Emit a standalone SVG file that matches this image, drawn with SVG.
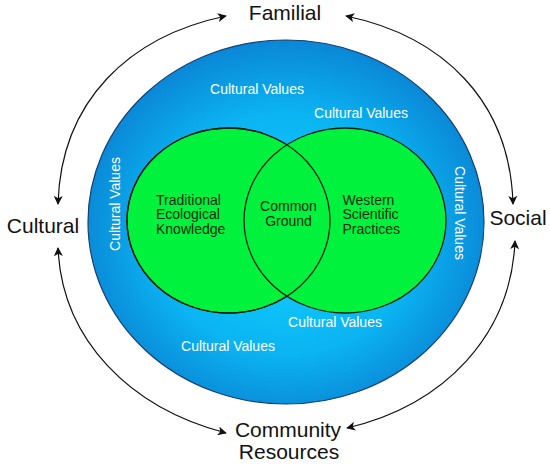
<svg xmlns="http://www.w3.org/2000/svg" width="550" height="467" viewBox="0 0 550 467">
<defs>
<radialGradient id="blueGrad" cx="50%" cy="52%" r="55%" fx="50%" fy="55%">
<stop offset="0" stop-color="#10d4ff"/>
<stop offset="0.6" stop-color="#0bb4f2"/>
<stop offset="1" stop-color="#0a80d2"/>
</radialGradient>
<marker id="arrow" viewBox="0 0 10 10" refX="9" refY="5" markerWidth="9" markerHeight="9" markerUnits="userSpaceOnUse" orient="auto-start-reverse">
<path d="M0,0 L10,5 L0,10 L2.5,5 Z" fill="#111"/>
</marker>
<style>
.outer{font-family:"Liberation Sans",Arial,sans-serif;font-size:21px;fill:#111}
.inner{font-family:"Liberation Sans",Arial,sans-serif;font-size:14px;fill:#0d2a0d}
.cv{font-family:"Liberation Sans",Arial,sans-serif;font-size:14px;fill:#ffffff}
.conn{fill:none;stroke:#111;stroke-width:1.2;marker-end:url(#arrow)}
.green{fill:#00f23c;stroke:#102010;stroke-width:1.3}
</style>
</defs>
<rect width="550" height="467" fill="#ffffff"/>
<g id="outer-ellipse">
<ellipse cx="286" cy="222" rx="198" ry="182" fill="url(#blueGrad)" stroke="#15406e" stroke-width="1.2"/>
<text class="cv" x="257" y="94" text-anchor="middle">Cultural Values</text>
<text class="cv" x="361" y="118" text-anchor="middle">Cultural Values</text>
<text class="cv" x="335" y="327" text-anchor="middle">Cultural Values</text>
<text class="cv" x="228" y="351" text-anchor="middle">Cultural Values</text>
<text class="cv" x="0" y="0" text-anchor="middle" transform="translate(120,204) rotate(-90)">Cultural Values</text>
<text class="cv" x="0" y="0" text-anchor="middle" transform="translate(455,213) rotate(90)">Cultural Values</text>
</g>
<g id="tek">
<ellipse class="green" cx="228.5" cy="220.5" rx="101.5" ry="92.5"/>
</g>
<g id="wsp">
<ellipse class="green" cx="345" cy="220.5" rx="101" ry="92.5"/>
</g>
<g id="common-ground">
<ellipse cx="228.5" cy="220.5" rx="101.5" ry="92.5" fill="none" stroke="#102010" stroke-width="1.3"/>
<text class="inner" x="288.5" y="211" text-anchor="middle">Common</text>
<text class="inner" x="288.5" y="225.5" text-anchor="middle">Ground</text>
</g>
<g id="tek-label">
<text class="inner" x="156" y="204.5">Traditional</text>
<text class="inner" x="156" y="219">Ecological</text>
<text class="inner" x="156" y="233.5">Knowledge</text>
</g>
<g id="wsp-label">
<text class="inner" x="342.5" y="204.5">Western</text>
<text class="inner" x="342.5" y="219">Scientific</text>
<text class="inner" x="342.5" y="233.5">Practices</text>
</g>
<g id="familial"><text class="outer" x="285" y="20" text-anchor="middle">Familial</text></g>
<g id="cultural"><text class="outer" x="43" y="233" text-anchor="middle">Cultural</text></g>
<g id="social"><text class="outer" x="518" y="225" text-anchor="middle">Social</text></g>
<g id="community"><text class="outer" x="288" y="437" text-anchor="middle">Community</text><text class="outer" x="289" y="459" text-anchor="middle">Resources</text></g>
<g id="connectors">
<path class="conn" style="marker-start:url(#arrow)" d="M226,16 C130,36 61,100 58,204"/>
<path class="conn" style="marker-start:url(#arrow)" d="M58,248 C62,340 130,408 226,433"/>
<path class="conn" style="marker-start:url(#arrow)" d="M346,16 C442,36 510,100 513,204"/>
<path class="conn" style="marker-start:url(#arrow)" d="M515,241 C511,335 445,405 347,428"/>
</g>
</svg>
